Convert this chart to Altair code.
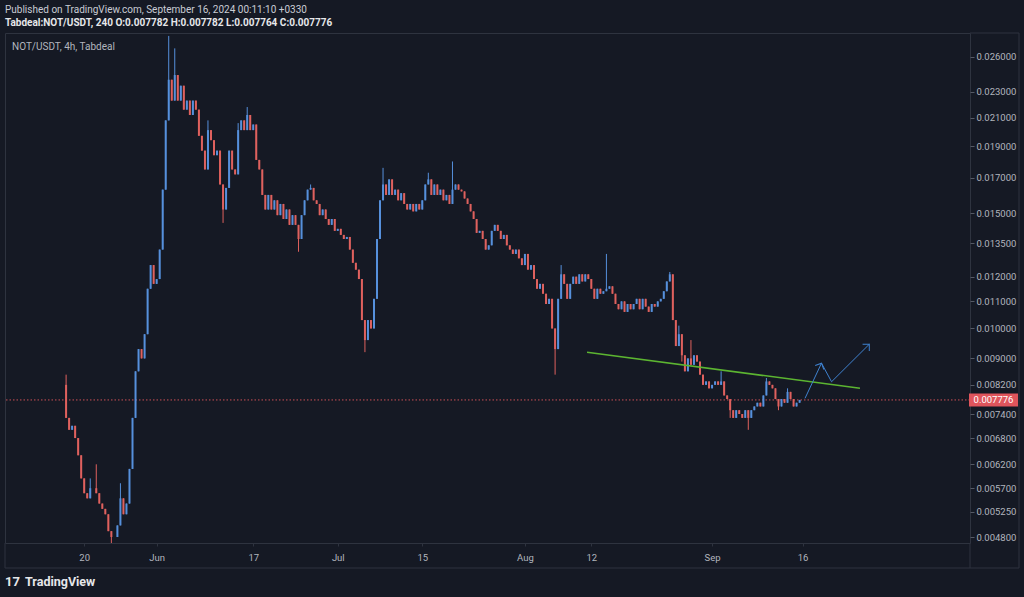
import altair as alt
import pandas as pd

# ---- data (12h candles, NOT/USDT) ----
closes = [
    0.0073, 0.0070, 0.0071, 0.0068, 0.0064, 0.0059, 0.0056, 0.0055, 0.0057, 0.0057,
    0.0056, 0.0054, 0.0053, 0.0052, 0.0049, 0.0048, 0.0048, 0.0050, 0.0055, 0.0052,
    0.0054, 0.0061, 0.0073, 0.0086, 0.0093, 0.0090, 0.0098, 0.0115, 0.0125, 0.0117,
    0.0119, 0.0132, 0.0163, 0.0208, 0.0240, 0.0223, 0.0244, 0.0223, 0.0235, 0.0216,
    0.0223, 0.0212, 0.0223, 0.0216, 0.0197, 0.0187, 0.0175, 0.0201, 0.0194, 0.0184,
    0.0187, 0.0166, 0.0152, 0.0164, 0.0187, 0.0175, 0.0172, 0.0201, 0.0208, 0.0201,
    0.0212, 0.0201, 0.0205, 0.0181, 0.0175, 0.0160, 0.0152, 0.0160, 0.0152, 0.0157,
    0.0149, 0.0155, 0.0147, 0.0152, 0.0144, 0.0149, 0.0144, 0.0137, 0.0149, 0.0157,
    0.0163, 0.0164, 0.0157, 0.0155, 0.0149, 0.0152, 0.0147, 0.0144, 0.0147, 0.0141,
    0.0142, 0.0139, 0.0137, 0.0138, 0.0132, 0.0126, 0.0123, 0.0119, 0.0103, 0.0096,
    0.0103, 0.0100, 0.0111, 0.0137, 0.0157, 0.0166, 0.0160, 0.0169, 0.0160, 0.0163,
    0.0157, 0.0161, 0.0155, 0.0152, 0.0155, 0.0151, 0.0155, 0.0152, 0.0157, 0.0166,
    0.0169, 0.0160, 0.0166, 0.0160, 0.0163, 0.0157, 0.0160, 0.0155, 0.0163, 0.0166,
    0.0163, 0.0162, 0.0158, 0.0155, 0.0151, 0.0147, 0.0140, 0.0141, 0.0137, 0.0132,
    0.0134, 0.0141, 0.0144, 0.0141, 0.0137, 0.0139, 0.0134, 0.0132, 0.0130, 0.0132,
    0.0128, 0.0125, 0.0130, 0.0123, 0.0125, 0.0119, 0.0115, 0.0117, 0.0113, 0.0109,
    0.0111, 0.0100, 0.0093, 0.0111, 0.0121, 0.0117, 0.0111, 0.0117, 0.0120, 0.0117,
    0.0121, 0.0118, 0.0121, 0.0119, 0.0115, 0.0111, 0.0115, 0.0113, 0.0114, 0.0115,
    0.0116, 0.0113, 0.0109, 0.0107, 0.0110, 0.0106, 0.0109, 0.0107, 0.0109, 0.0111,
    0.0107, 0.0111, 0.0108, 0.0106, 0.0109, 0.0108, 0.0110, 0.0111, 0.0114, 0.0118,
    0.0121, 0.0103, 0.0094, 0.0098, 0.0091, 0.0086, 0.0090, 0.0088, 0.0091, 0.0089,
    0.0085, 0.0082, 0.0083, 0.0081, 0.0082, 0.0083, 0.0082, 0.0083, 0.0079, 0.0078,
    0.0075, 0.0073, 0.0075, 0.0074, 0.0073, 0.0075, 0.0073, 0.0075, 0.0076, 0.0077,
    0.0076, 0.0079, 0.0083, 0.0082, 0.0081, 0.0078, 0.0076, 0.0078, 0.0077, 0.0080,
    0.0078, 0.0076, 0.0077, 0.007776,
]
first_open = 0.0082
start_time = "2024-05-17"
high_wicks = {0: 0.0085, 8: 0.0059, 10: 0.0062, 18: 0.0058, 34: 0.0280, 36: 0.0268,
              47: 0.0208, 57: 0.0206, 60: 0.0218, 81: 0.0166, 105: 0.0176, 120: 0.0173,
              128: 0.0180, 164: 0.0125, 179: 0.0130, 200: 0.0122, 203: 0.0101,
              207: 0.0096, 217: 0.0086, 232: 0.0084, 239: 0.0081}
low_wicks = {15: 0.0047, 52: 0.0145, 77: 0.0131, 99: 0.0092, 162: 0.0085,
             204: 0.0089, 220: 0.0073, 226: 0.0070, 236: 0.0075}

trend_times = ["2024-08-11T07:00:00Z", "2024-09-25T12:00:00Z"]
trend_prices = [0.0092, 0.0081]
arrow_times = ["2024-09-16T09:30:00Z", "2024-09-19T03:00:00Z",
               "2024-09-20T19:00:00Z", "2024-09-27T01:00:00Z"]
arrow_prices = [0.00782, 0.00885, 0.00829, 0.00946]

y_ticks = [0.026, 0.023, 0.021, 0.019, 0.017, 0.015, 0.0135, 0.012, 0.011, 0.010,
           0.009, 0.0082, 0.0074, 0.0068, 0.0062, 0.0057, 0.00525, 0.0048]
x_tick_dates = [(5, 20), (6, 1), (6, 17), (7, 1), (7, 15), (8, 1), (8, 12), (9, 1), (9, 16)]
last_price = 0.007776
last_label = "0.007776"

header1 = "Published on TradingView.com, September 16, 2024 00:11:10 +0330"
header2 = "Tabdeal:NOT/USDT, 240  O:0.007782  H:0.007782  L:0.007764  C:0.007776"
symbol_label = "NOT/USDT, 4h, Tabdeal"

# ---- build table ----
times = pd.date_range(start_time, periods=len(closes), freq="12h", tz="UTC")
opens = [first_open] + closes[:-1]
rows = []
for i, (t, o, c) in enumerate(zip(times, opens, closes)):
    h = max(high_wicks.get(i, 0), o, c)
    l = min(low_wicks.get(i, 1), o, c)
    rows.append({"t": t.strftime("%Y-%m-%dT%H:%M:%SZ"), "open": o, "close": c,
                 "high": h, "low": l, "dir": "up" if c >= o else "down"})
df = pd.DataFrame(rows)

trend_df = pd.DataFrame({"t": trend_times, "p": trend_prices})
arrow_df = pd.DataFrame({"t": arrow_times, "p": arrow_prices, "k": list(range(len(arrow_times)))})
one = pd.DataFrame({"a": [0]})

BG = "#151924"
FRAME = "#2e333f"
LABEL = "#b2b5be"
UP = "#5690dc"
DOWN = "#df615e"
FONT = "Roboto"

x_scale = alt.Scale(type="utc", nice=False, domain=[
    alt.DateTime(year=2024, month=5, date=7, hours=17, utc=True),
    alt.DateTime(year=2024, month=10, date=12, hours=21, minutes=30, utc=True)])
y_scale = alt.Scale(type="log", domain=[0.0047, 0.02829], nice=False, zero=False)

x_axis = alt.Axis(
    values=[alt.DateTime(year=2024, month=m, date=d, utc=True) for m, d in x_tick_dates],
    labelExpr="utcdate(datum.value) == 1 ? utcFormat(datum.value, '%b') : utcFormat(datum.value, '%-d')",
    title=None, grid=False, domain=False, tickSize=3, tickColor=FRAME,
    labelColor=LABEL, labelFontSize=9.5, labelFont=FONT, labelPadding=6,
    labelOverlap=False)
y_axis = alt.Axis(orient="right", values=y_ticks, format=".6f", title=None, grid=False,
                  domain=False, tickSize=4, tickColor="#555a66", labelColor=LABEL,
                  labelFontSize=9.5, labelFont=FONT, labelPadding=2, labelOverlap=False)

color = alt.Color("dir:N", scale=alt.Scale(domain=["up", "down"], range=[UP, DOWN]), legend=None)

base = alt.Chart(df)
wicks = base.mark_rule(strokeWidth=1).encode(
    x=alt.X("t:T", scale=x_scale, axis=x_axis),
    y=alt.Y("low:Q", scale=y_scale, axis=y_axis),
    y2="high:Q",
    color=color)
bodies = base.mark_bar(size=2).encode(
    x="t:T", y="open:Q", y2="close:Q", color=color)

price_line = alt.Chart(one).mark_rule(color="#e0555c", strokeDash=[1.5, 2], strokeWidth=1, opacity=0.9).encode(
    y=alt.datum(last_price))

trend = alt.Chart(trend_df).mark_line(color="#5cb531", strokeWidth=1.5).encode(
    x="t:T", y="p:Q")
arrow = alt.Chart(arrow_df).mark_line(color="#3f82d0", strokeWidth=1).encode(
    x="t:T", y="p:Q", order="k:Q")
chev = "M-1,1L0,0L1,1"
head1 = alt.Chart(arrow_df[arrow_df.k == 1]).mark_point(
    shape=chev, filled=False, size=90, angle=25, color="#3f82d0", strokeWidth=1, opacity=1).encode(
    x="t:T", y="p:Q")
head2 = alt.Chart(arrow_df[arrow_df.k == 3]).mark_point(
    shape=chev, filled=False, size=90, angle=45, color="#3f82d0", strokeWidth=1, opacity=1).encode(
    x="t:T", y="p:Q")

price_box = alt.Chart(one).mark_rect(color="#e0555c", yOffset=-6.5, y2Offset=6.5).encode(
    x=alt.value(964), x2=alt.value(1013), y=alt.datum(last_price), y2=alt.datum(last_price))
price_text = alt.Chart(one).mark_text(color="#ffffff", fontSize=9.5, font=FONT, align="center",
                                      baseline="middle").encode(
    x=alt.value(988.5), y=alt.datum(last_price), text=alt.value(last_label))

t1 = alt.Chart(one).mark_text(color="#c9ccd4", fontSize=10, font=FONT, align="left",
                              baseline="middle").encode(
    x=alt.value(0), y=alt.value(-23), text=alt.value(header1))
t2 = alt.Chart(one).mark_text(color="#e6e7ea", fontSize=10, font=FONT, fontWeight="bold",
                              align="left", baseline="middle").encode(
    x=alt.value(0), y=alt.value(-10), text=alt.value(header2))
t3 = alt.Chart(one).mark_text(color=LABEL, fontSize=10, font=FONT, align="left",
                              baseline="middle").encode(
    x=alt.value(7), y=alt.value(14), text=alt.value(symbol_label))
logo1 = alt.Chart(one).mark_text(color="#e6e7ea", fontSize=13, font=FONT, fontWeight="bold",
                                 align="left", baseline="middle").encode(
    x=alt.value(0), y=alt.value(549), text=alt.value("17"))
logo2 = alt.Chart(one).mark_text(color="#e6e7ea", fontSize=12.5, font=FONT, fontWeight="bold",
                                 align="left", baseline="middle").encode(
    x=alt.value(20), y=alt.value(549), text=alt.value("TradingView"))

def hrule(y, x1, x2):
    return alt.Chart(one).mark_rule(color=FRAME, strokeWidth=1).encode(
        y=alt.value(y), x=alt.value(x1), x2=alt.value(x2))

def vrule(x, y1, y2):
    return alt.Chart(one).mark_rule(color=FRAME, strokeWidth=1).encode(
        x=alt.value(x), y=alt.value(y1), y2=alt.value(y2))

frame = [hrule(0, 965, 1014), hrule(535, 0, 1014), vrule(1014, 0, 535),
         vrule(0, 510, 535), vrule(965, 510, 535)]

chart = alt.layer(
    price_line, wicks, bodies, trend, arrow, head1, head2, price_box, price_text,
    t1, t2, t3, logo1, logo2, *frame
).resolve_scale(y="shared").properties(
    width=965, height=510,
    autosize=alt.AutoSizeParams(type="none"),
    padding={"left": 5, "top": 33, "right": 54, "bottom": 54},
    background=BG,
).configure_view(stroke=FRAME, strokeWidth=1, fill=BG)

chart.save("out.html", embed_options={"renderer": "svg", "actions": False})
